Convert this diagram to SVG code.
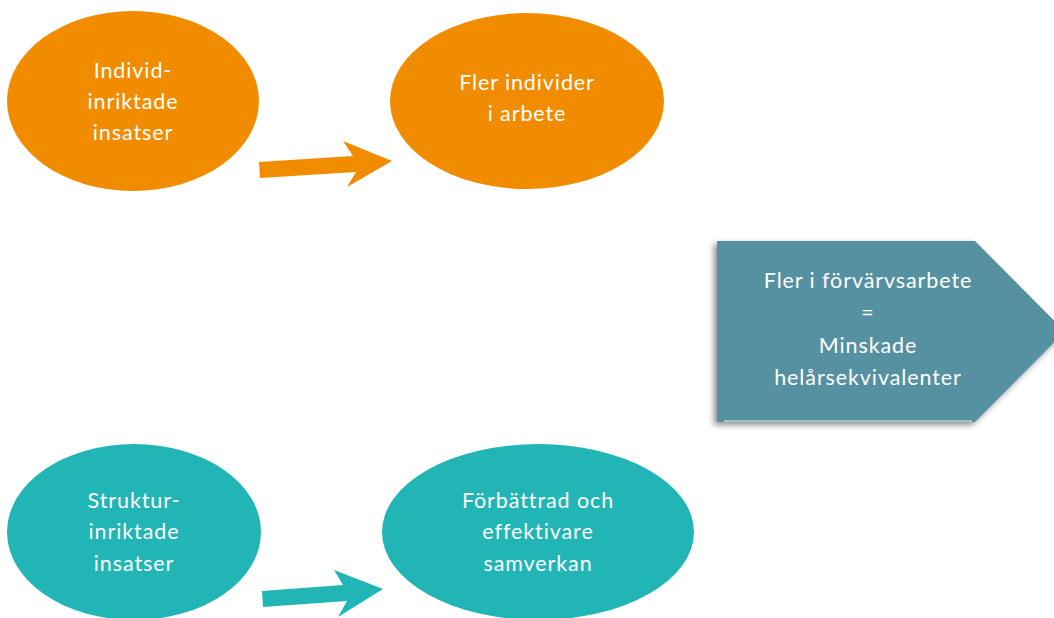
<svg xmlns="http://www.w3.org/2000/svg" width="1054" height="618" viewBox="0 0 1054 618">
<defs>
<style>
.t{font-family:Lato,"Open Sans","Liberation Sans",sans-serif;font-size:21.5px;letter-spacing:0.9px;fill:#ffffff;text-anchor:middle}
.or{fill:#F18B00}
.te{fill:#22B5B6}
</style>
<filter id="sh" x="-10%" y="-10%" width="130%" height="130%">
<feGaussianBlur in="SourceAlpha" stdDeviation="3"/>
<feOffset dx="-3" dy="3" result="b"/>
<feComponentTransfer><feFuncA type="linear" slope="0.45"/></feComponentTransfer>
<feMerge><feMergeNode/><feMergeNode in="SourceGraphic"/></feMerge>
</filter>
</defs>
<rect width="1054" height="618" fill="#ffffff"/>
<g id="n1">
<ellipse class="or" cx="133" cy="101" rx="126" ry="90"/>
<text class="t" x="133" y="78">Individ-</text>
<text class="t" x="133" y="109">inriktade</text>
<text class="t" x="133" y="140">insatser</text>
</g>
<g id="n2">
<ellipse class="or" cx="527" cy="101" rx="137" ry="88"/>
<text class="t" x="527" y="90">Fler individer</text>
<text class="t" x="527" y="121">i arbete</text>
</g>
<g id="n3">
<ellipse class="te" cx="134" cy="532" rx="127" ry="88"/>
<text class="t" x="134" y="508">Struktur-</text>
<text class="t" x="134" y="539">inriktade</text>
<text class="t" x="134" y="571">insatser</text>
</g>
<g id="n4">
<ellipse class="te" cx="538" cy="532" rx="156" ry="88"/>
<text class="t" x="538" y="508">Förbättrad och</text>
<text class="t" x="538" y="539">effektivare</text>
<text class="t" x="538" y="571">samverkan</text>
</g>
<g id="n5">
<polygon points="717,241 975,241 1065,331.5 975,422 717,422" fill="#5791A2" filter="url(#sh)"/>
<line x1="724" y1="421" x2="972" y2="421" stroke="#ffffff" stroke-opacity="0.6" stroke-width="1.5"/>
<text class="t" x="868" y="288">Fler i förvärvsarbete</text>
<text class="t" x="868" y="320">=</text>
<text class="t" x="868" y="353">Minskade</text>
<text class="t" x="868" y="385">helårsekvivalenter</text>
</g>
<g id="connectors">
<polygon class="or" points="259,162 353,156 343,141 392,161 347,187 356,172 260,178"/>
<polygon class="te" points="262,591 343,585 334,570 383,589 338,617 347,601 263,607"/>
</g>
</svg>
